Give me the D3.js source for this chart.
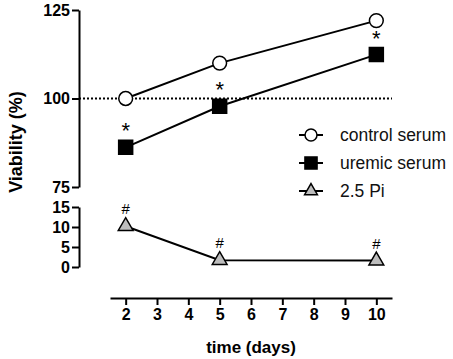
<!DOCTYPE html>
<html lang="en">
    <head>
        <meta charset="utf-8">
        <title>Viability</title>
        <script type="text/javascript" src="https://d3js.org/d3.v7.min.js"></script>
        <style type="text/css">
          body { margin: 0; background: #fff; }
          svg { font-family: "Liberation Sans", Arial, sans-serif; }
          .axis path, .axis line { stroke: #000; stroke-width: 2px; }
          .axis text { font-size: 16px; font-weight: bold; fill: #000; }
          .series { fill: none; stroke: #000; stroke-width: 2px; }
          .legend text { font-size: 17.5px; fill: #111; }
        </style>
    </head>
    <body>
        <svg width="453" height="359"></svg>
        <script type="text/javascript">

            // data
            const days = [2, 5, 10];
            const control = [100, 110, 122];
            const uremic = [86.2, 97.8, 112.4];
            const pi = [10.2, 1.7, 1.6];
            const uremicMarks = ["*", "*", "*"];
            const piMarks = ["#", "#", "#"];
            const seriesNames = ["control serum", "uremic serum", "2.5 Pi"];
            const xTicks = [2, 3, 4, 5, 6, 7, 8, 9, 10];
            const topTicks = [75, 100, 125];
            const bottomTicks = [0, 5, 10, 15];

            const svg = d3.select("svg");

            const x = d3.scaleLinear().domain([1.5, 10.5]).range([110, 392]);
            const yTop = d3.scaleLinear().domain([75, 125]).range([187, 10]);
            const yBot = d3.scaleLinear().domain([0, 15]).range([267, 207]);
            const axisX = 79;

            // axes
            svg.append("g")
               .attr("class", "axis")
               .attr("transform", `translate(${axisX},0)`)
               .call(d3.axisLeft(yTop).tickValues(topTicks).tickSize(7).tickSizeOuter(0).tickPadding(2));

            svg.append("g")
               .attr("class", "axis")
               .attr("transform", `translate(${axisX},0)`)
               .call(d3.axisLeft(yBot).tickValues(bottomTicks).tickSize(7).tickSizeOuter(0).tickPadding(2));

            svg.append("g")
               .attr("class", "axis")
               .attr("transform", "translate(0,298)")
               .call(d3.axisBottom(x).tickValues(xTicks).tickSize(7).tickSizeOuter(0).tickPadding(4));

            svg.selectAll(".axis .domain").attr("fill", "none");

            // axis titles
            svg.append("text")
               .attr("x", 251).attr("y", 353)
               .attr("text-anchor", "middle")
               .style("font-size", "17px").style("font-weight", "bold")
               .text("time (days)");

            svg.append("text")
               .attr("transform", "translate(22,142) rotate(-90)")
               .attr("text-anchor", "middle")
               .style("font-size", "18px").style("font-weight", "bold")
               .text("Viability (%)");

            // 100% reference line
            svg.append("line")
               .attr("x1", axisX).attr("x2", 392)
               .attr("y1", yTop(100)).attr("y2", yTop(100))
               .attr("stroke", "#000").attr("stroke-width", 2)
               .attr("stroke-dasharray", "2,2");

            const series = [
                {name: seriesNames[0], values: control, y: yTop, shape: d3.symbolCircle, size: 150, fill: "#fff", marks: null},
                {name: seriesNames[1], values: uremic, y: yTop, shape: d3.symbolSquare, size: 196, fill: "#000", marks: uremicMarks},
                {name: seriesNames[2], values: pi, y: yBot, shape: d3.symbolTriangle, size: 95, fill: "#bdbdbd", marks: piMarks}
            ];

            series.forEach(s => {
                const pts = days.map((d, i) => [x(d), s.y(s.values[i])]);

                svg.append("path")
                   .attr("class", "series")
                   .attr("d", d3.line()(pts));

                svg.selectAll(null)
                   .data(pts)
                   .enter()
                   .append("path")
                   .attr("transform", d => `translate(${d[0]},${d[1]})`)
                   .attr("d", d3.symbol().type(s.shape).size(s.size))
                   .attr("fill", s.fill)
                   .attr("stroke", "#000")
                   .attr("stroke-width", 1.5);

                if (s.marks) {
                    const star = s.marks[0] === "*";
                    svg.selectAll(null)
                       .data(pts)
                       .enter()
                       .append("text")
                       .attr("x", d => d[0])
                       .attr("y", d => d[1] - (star ? 9 : 12))
                       .attr("text-anchor", "middle")
                       .style("font-size", star ? "22px" : "15px")
                       .text((d, i) => s.marks[i]);
                }
            });

            // legend
            const legend = svg.append("g").attr("class", "legend");
            series.forEach((s, i) => {
                const ly = 135 + i * 28;
                legend.append("line")
                      .attr("x1", 299).attr("x2", 323)
                      .attr("y1", ly).attr("y2", ly)
                      .attr("stroke", "#000").attr("stroke-width", 2);
                legend.append("path")
                      .attr("transform", `translate(311,${ly})`)
                      .attr("d", d3.symbol().type(s.shape).size(s.size * 0.75))
                      .attr("fill", s.fill)
                      .attr("stroke", "#000")
                      .attr("stroke-width", 1.5);
                legend.append("text")
                      .attr("x", 340).attr("y", ly)
                      .attr("dy", "0.35em")
                      .text(s.name);
            });

        </script>
    </body>
</html>
